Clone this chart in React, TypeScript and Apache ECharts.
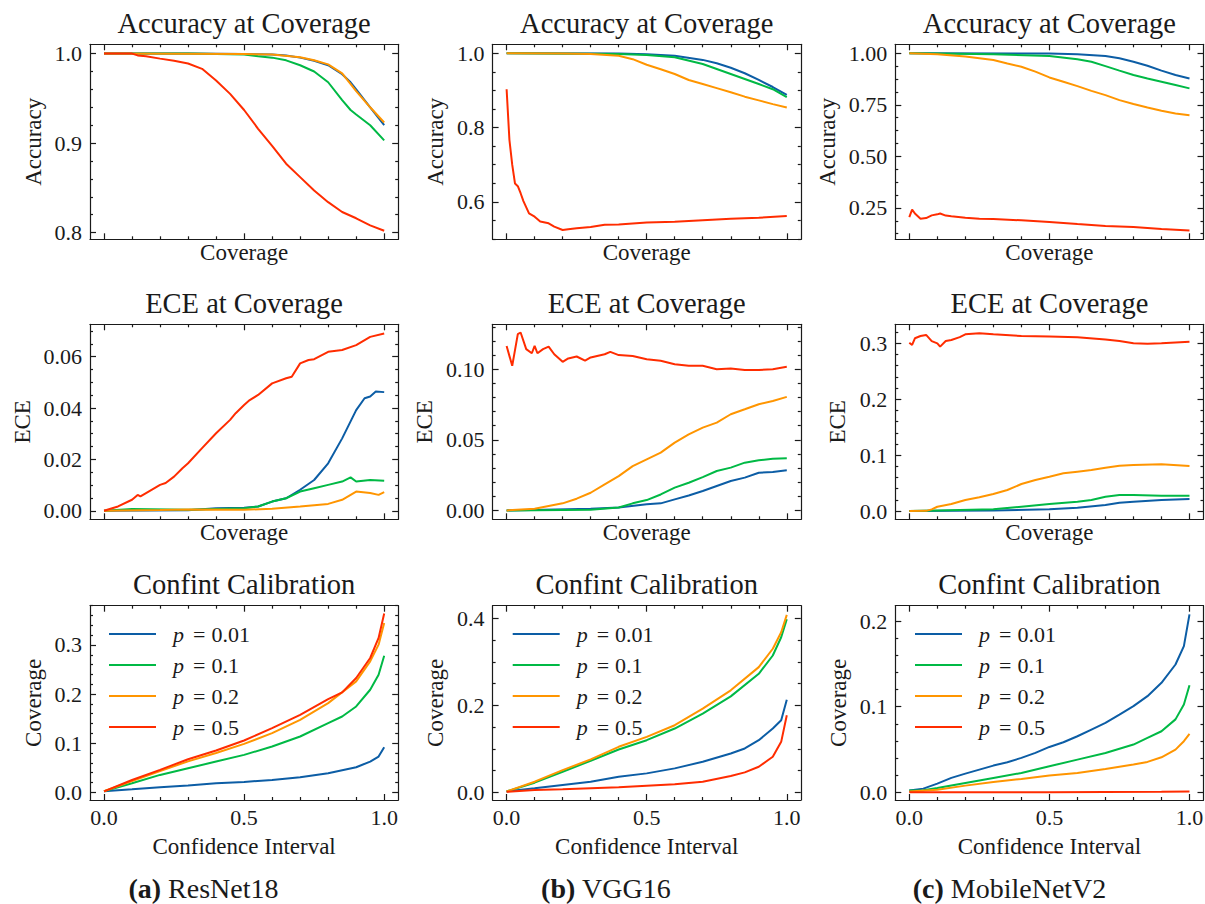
import React, { useEffect, useRef } from "react";
import * as echarts from "echarts";

type Pt = [number, number];

const FONT = "Liberation Serif";
const INK = "#1a1a1a";
const SERIES_COLORS = ["#0C5DA5", "#00B945", "#FF9500", "#FF2C00"];
const P_NAMES = ["p = 0.01", "p = 0.1", "p = 0.2", "p = 0.5"];
const P_VALUES = ["0.01", "0.1", "0.2", "0.5"];
const MODELS = ["ResNet18", "VGG16", "MobileNetV2"];
const TAGS = ["(a)", "(b)", "(c)"];
const ROW_TITLES = ["Accuracy at Coverage", "ECE at Coverage", "Confint Calibration"];
const ROW_YNAMES = ["Accuracy", "ECE", "Coverage"];
const ROW_XNAMES = ["Coverage", "Coverage", "Confidence Interval"];
const X_MAJOR = [0, 0.5, 1.0];
const X_MINOR = [0.1, 0.2, 0.3, 0.4, 0.6, 0.7, 0.8, 0.9];

// ---------- (a) ResNet18 ----------
const A_ACC_P001: Pt[] = [[0, 1], [0.3, 1.0], [0.5, 0.9995], [0.6, 0.999], [0.65, 0.998], [0.7, 0.9955], [0.75, 0.992], [0.8, 0.987], [0.85, 0.977], [0.88, 0.968], [0.9, 0.96], [0.95, 0.94], [1.0, 0.92]];
const A_ACC_P01: Pt[] = [[0, 1], [0.3, 1.0], [0.4, 0.9995], [0.5, 0.999], [0.55, 0.997], [0.6, 0.9955], [0.65, 0.9925], [0.7, 0.987], [0.75, 0.98], [0.8, 0.968], [0.85, 0.948], [0.88, 0.937], [0.9, 0.932], [0.95, 0.92], [1.0, 0.903]];
const A_ACC_P02: Pt[] = [[0, 1], [0.5, 0.9995], [0.6, 0.999], [0.7, 0.996], [0.75, 0.9925], [0.8, 0.988], [0.85, 0.978], [0.9, 0.958], [0.95, 0.94], [1.0, 0.923]];
const A_ACC_P05: Pt[] = [[0, 1], [0.1, 1.0], [0.12, 0.998], [0.15, 0.997], [0.2, 0.9944], [0.25, 0.992], [0.3, 0.989], [0.35, 0.983], [0.4, 0.97], [0.45, 0.955], [0.5, 0.937], [0.55, 0.916], [0.6, 0.897], [0.65, 0.877], [0.7, 0.862], [0.75, 0.847], [0.8, 0.834], [0.85, 0.823], [0.9, 0.816], [0.95, 0.808], [1.0, 0.802]];

const A_ECE_P001: Pt[] = [[0, 0], [0.3, 0.0002], [0.4, 0.001], [0.5, 0.0012], [0.55, 0.0017], [0.6, 0.0036], [0.65, 0.0049], [0.7, 0.0082], [0.75, 0.012], [0.8, 0.0185], [0.85, 0.0282], [0.9, 0.0392], [0.93, 0.0438], [0.95, 0.0445], [0.97, 0.0464], [1.0, 0.0462]];
const A_ECE_P01: Pt[] = [[0, 0], [0.1, 0.0007], [0.3, 0.0004], [0.5, 0.001], [0.55, 0.0017], [0.6, 0.0036], [0.65, 0.0049], [0.7, 0.0075], [0.75, 0.0088], [0.8, 0.0101], [0.85, 0.0114], [0.88, 0.013], [0.9, 0.0114], [0.95, 0.012], [1.0, 0.0117]];
const A_ECE_P02: Pt[] = [[0, 0], [0.2, 0.0003], [0.3, 0.0005], [0.5, 0.0004], [0.6, 0.0008], [0.7, 0.0017], [0.8, 0.0027], [0.85, 0.0043], [0.9, 0.0075], [0.95, 0.0069], [0.98, 0.0062], [1.0, 0.0073]];
const A_ECE_P05: Pt[] = [[0, 0], [0.05, 0.0017], [0.1, 0.0043], [0.12, 0.0062], [0.13, 0.0056], [0.15, 0.0069], [0.2, 0.0101], [0.22, 0.0108], [0.25, 0.0133], [0.28, 0.0166], [0.3, 0.0185], [0.35, 0.0244], [0.4, 0.0302], [0.45, 0.0354], [0.47, 0.038], [0.5, 0.0412], [0.52, 0.0431], [0.55, 0.0451], [0.6, 0.0496], [0.65, 0.0516], [0.67, 0.0522], [0.7, 0.0574], [0.73, 0.0587], [0.75, 0.059], [0.8, 0.0619], [0.85, 0.0626], [0.9, 0.0645], [0.95, 0.0677], [1.0, 0.069]];

const A_CAL_P001: Pt[] = [[0, 0.002], [0.1, 0.006], [0.2, 0.0102], [0.3, 0.0136], [0.4, 0.0184], [0.5, 0.0211], [0.6, 0.0252], [0.7, 0.0306], [0.8, 0.0388], [0.9, 0.051], [0.95, 0.0626], [0.98, 0.0728], [1.0, 0.0918]];
const A_CAL_P01: Pt[] = [[0, 0.002], [0.1, 0.0184], [0.2, 0.0354], [0.3, 0.049], [0.4, 0.0626], [0.5, 0.0762], [0.6, 0.0932], [0.7, 0.1136], [0.8, 0.1408], [0.85, 0.1544], [0.9, 0.1748], [0.95, 0.2088], [0.98, 0.2395], [1.0, 0.278]];
const A_CAL_P02: Pt[] = [[0, 0.002], [0.1, 0.023], [0.2, 0.043], [0.3, 0.063], [0.4, 0.08], [0.5, 0.0986], [0.6, 0.1204], [0.7, 0.1476], [0.8, 0.1816], [0.9, 0.2259], [0.95, 0.2667], [0.98, 0.3007], [1.0, 0.345]];
const A_CAL_P05: Pt[] = [[0, 0.002], [0.1, 0.025], [0.2, 0.0456], [0.3, 0.0673], [0.4, 0.085], [0.5, 0.1054], [0.6, 0.1306], [0.7, 0.1578], [0.8, 0.1898], [0.85, 0.2034], [0.9, 0.2327], [0.95, 0.2735], [0.98, 0.3143], [1.0, 0.364]];

// ---------- (b) VGG16 ----------
const B_ACC_P001: Pt[] = [[0, 1], [0.4, 0.999], [0.5, 0.997], [0.6, 0.993], [0.7, 0.982], [0.75, 0.973], [0.8, 0.961], [0.85, 0.946], [0.9, 0.928], [0.95, 0.909], [1.0, 0.888]];
const B_ACC_P01: Pt[] = [[0, 1], [0.4, 0.998], [0.5, 0.9955], [0.6, 0.989], [0.7, 0.971], [0.8, 0.944], [0.9, 0.917], [0.95, 0.903], [1.0, 0.882]];
const B_ACC_P02: Pt[] = [[0, 1], [0.2, 0.999], [0.3, 0.998], [0.4, 0.993], [0.45, 0.984], [0.5, 0.969], [0.55, 0.957], [0.6, 0.944], [0.65, 0.928], [0.7, 0.917], [0.75, 0.906], [0.8, 0.895], [0.85, 0.883], [0.9, 0.873], [0.95, 0.863], [1.0, 0.854]];
const B_ACC_P05: Pt[] = [[0, 0.903], [0.01, 0.767], [0.02, 0.7], [0.03, 0.649], [0.04, 0.642], [0.05, 0.623], [0.06, 0.602], [0.08, 0.569], [0.1, 0.56], [0.12, 0.547], [0.15, 0.542], [0.17, 0.533], [0.2, 0.524], [0.22, 0.526], [0.25, 0.529], [0.3, 0.532], [0.35, 0.538], [0.4, 0.539], [0.5, 0.544], [0.6, 0.546], [0.7, 0.55], [0.8, 0.554], [0.9, 0.557], [1.0, 0.562]];

const B_ECE_P001: Pt[] = [[0, 0], [0.3, 0.0012], [0.4, 0.002], [0.5, 0.0043], [0.55, 0.005], [0.6, 0.0078], [0.65, 0.0106], [0.7, 0.0137], [0.75, 0.0173], [0.8, 0.0208], [0.85, 0.0232], [0.9, 0.0267], [0.95, 0.0272], [1.0, 0.0284]];
const B_ECE_P01: Pt[] = [[0, 0], [0.3, 0.0005], [0.4, 0.002], [0.45, 0.005], [0.5, 0.0073], [0.55, 0.0113], [0.6, 0.0161], [0.65, 0.0196], [0.7, 0.0236], [0.75, 0.0279], [0.8, 0.0303], [0.85, 0.0338], [0.9, 0.0355], [0.95, 0.0366], [1.0, 0.0369]];
const B_ECE_P02: Pt[] = [[0, 0], [0.1, 0.0012], [0.2, 0.005], [0.25, 0.0083], [0.3, 0.0125], [0.35, 0.0184], [0.4, 0.0243], [0.45, 0.0314], [0.5, 0.0362], [0.55, 0.0409], [0.6, 0.048], [0.65, 0.0539], [0.7, 0.0586], [0.75, 0.0622], [0.8, 0.0681], [0.85, 0.0716], [0.9, 0.0752], [0.95, 0.0775], [1.0, 0.0804]];
const B_ECE_P05: Pt[] = [[0, 0.1165], [0.02, 0.1024], [0.04, 0.1248], [0.05, 0.126], [0.07, 0.1142], [0.09, 0.1113], [0.1, 0.1165], [0.11, 0.1113], [0.13, 0.1142], [0.15, 0.116], [0.17, 0.1106], [0.2, 0.1052], [0.22, 0.1076], [0.25, 0.109], [0.28, 0.106], [0.3, 0.1083], [0.35, 0.1106], [0.37, 0.1123], [0.4, 0.11], [0.45, 0.1094], [0.5, 0.1071], [0.55, 0.106], [0.6, 0.1035], [0.65, 0.1024], [0.7, 0.1024], [0.75, 0.1], [0.8, 0.1005], [0.85, 0.0995], [0.9, 0.0995], [0.95, 0.1], [1.0, 0.1017]];

const B_CAL_P001: Pt[] = [[0, 0.002], [0.1, 0.0092], [0.2, 0.0168], [0.3, 0.0244], [0.4, 0.0359], [0.5, 0.0435], [0.6, 0.055], [0.7, 0.0702], [0.8, 0.0893], [0.85, 0.1008], [0.9, 0.1198], [0.95, 0.1466], [0.98, 0.1656], [1.0, 0.213]];
const B_CAL_P01: Pt[] = [[0, 0.002], [0.1, 0.0221], [0.2, 0.0473], [0.3, 0.0725], [0.4, 0.0985], [0.5, 0.1198], [0.6, 0.1466], [0.7, 0.1809], [0.8, 0.2206], [0.9, 0.2725], [0.95, 0.3145], [0.98, 0.3565], [1.0, 0.398]];
const B_CAL_P02: Pt[] = [[0, 0.002], [0.1, 0.0244], [0.2, 0.0511], [0.3, 0.0756], [0.4, 0.1046], [0.5, 0.1275], [0.6, 0.1542], [0.7, 0.1924], [0.8, 0.2344], [0.9, 0.2878], [0.95, 0.33], [0.98, 0.368], [1.0, 0.408]];
const B_CAL_P05: Pt[] = [[0, 0.001], [0.1, 0.0053], [0.2, 0.0069], [0.3, 0.0092], [0.4, 0.0115], [0.5, 0.0153], [0.6, 0.0183], [0.7, 0.0244], [0.8, 0.0374], [0.85, 0.0458], [0.9, 0.0588], [0.95, 0.0817], [0.98, 0.116], [1.0, 0.177]];

// ---------- (c) MobileNetV2 ----------
const C_ACC_P001: Pt[] = [[0, 1], [0.5, 0.999], [0.6, 0.996], [0.7, 0.987], [0.75, 0.976], [0.8, 0.959], [0.85, 0.94], [0.9, 0.916], [0.95, 0.895], [1.0, 0.878]];
const C_ACC_P01: Pt[] = [[0, 1], [0.1, 0.999], [0.3, 0.995], [0.5, 0.987], [0.6, 0.971], [0.65, 0.959], [0.7, 0.938], [0.75, 0.916], [0.8, 0.895], [0.85, 0.878], [0.9, 0.862], [0.95, 0.846], [1.0, 0.83]];
const C_ACC_P02: Pt[] = [[0, 1], [0.1, 0.995], [0.2, 0.984], [0.3, 0.968], [0.35, 0.951], [0.4, 0.935], [0.45, 0.911], [0.5, 0.883], [0.55, 0.862], [0.6, 0.841], [0.65, 0.818], [0.7, 0.797], [0.75, 0.773], [0.8, 0.754], [0.85, 0.737], [0.9, 0.721], [0.95, 0.708], [1.0, 0.7]];
const C_ACC_P05: Pt[] = [[0, 0.206], [0.01, 0.242], [0.02, 0.223], [0.04, 0.198], [0.06, 0.201], [0.08, 0.214], [0.1, 0.219], [0.11, 0.223], [0.13, 0.213], [0.15, 0.21], [0.2, 0.203], [0.25, 0.198], [0.3, 0.196], [0.4, 0.19], [0.5, 0.182], [0.6, 0.172], [0.7, 0.163], [0.8, 0.158], [0.9, 0.148], [1.0, 0.141]];

const C_ECE_P001: Pt[] = [[0, 0], [0.3, 0.001], [0.5, 0.003], [0.6, 0.006], [0.7, 0.0107], [0.75, 0.0149], [0.8, 0.0167], [0.9, 0.0197], [1.0, 0.0215]];
const C_ECE_P01: Pt[] = [[0, 0], [0.1, 0.001], [0.3, 0.003], [0.4, 0.0077], [0.5, 0.0125], [0.6, 0.0167], [0.65, 0.0197], [0.7, 0.0256], [0.75, 0.0286], [0.8, 0.0286], [0.9, 0.0274], [1.0, 0.0274]];
const C_ECE_P02: Pt[] = [[0, 0], [0.06, 0.0003], [0.08, 0.003], [0.1, 0.0077], [0.15, 0.0125], [0.2, 0.0197], [0.25, 0.0245], [0.3, 0.0304], [0.35, 0.0376], [0.4, 0.0483], [0.45, 0.0555], [0.5, 0.0614], [0.55, 0.0674], [0.6, 0.0704], [0.65, 0.0733], [0.7, 0.0775], [0.75, 0.0811], [0.8, 0.0823], [0.9, 0.0835], [1.0, 0.0805]];
const C_ECE_P05: Pt[] = [[0, 0.3011], [0.01, 0.297], [0.02, 0.309], [0.04, 0.313], [0.06, 0.315], [0.08, 0.304], [0.1, 0.3], [0.11, 0.294], [0.13, 0.304], [0.15, 0.306], [0.18, 0.311], [0.2, 0.316], [0.25, 0.318], [0.3, 0.316], [0.4, 0.313], [0.5, 0.312], [0.6, 0.311], [0.7, 0.307], [0.75, 0.304], [0.8, 0.3], [0.85, 0.299], [0.9, 0.3], [1.0, 0.303]];

const C_CAL_P001: Pt[] = [[0, 0.002], [0.05, 0.0043], [0.1, 0.0101], [0.15, 0.0168], [0.2, 0.0218], [0.25, 0.0265], [0.3, 0.0312], [0.35, 0.0351], [0.4, 0.0402], [0.45, 0.046], [0.5, 0.053], [0.55, 0.0585], [0.6, 0.0655], [0.65, 0.0733], [0.7, 0.0811], [0.75, 0.0908], [0.8, 0.1006], [0.85, 0.1123], [0.9, 0.1279], [0.95, 0.1493], [0.98, 0.1708], [1.0, 0.2078]];
const C_CAL_P01: Pt[] = [[0, 0.002], [0.05, 0.0023], [0.1, 0.0051], [0.2, 0.0109], [0.3, 0.0168], [0.4, 0.0226], [0.5, 0.0304], [0.6, 0.0382], [0.7, 0.046], [0.8, 0.0558], [0.85, 0.0636], [0.9, 0.0713], [0.95, 0.0852], [0.98, 0.1025], [1.0, 0.1251]];
const C_CAL_P02: Pt[] = [[0, 0.001], [0.1, 0.0031], [0.2, 0.0078], [0.3, 0.0121], [0.4, 0.0156], [0.5, 0.0195], [0.6, 0.0226], [0.7, 0.0273], [0.8, 0.0324], [0.85, 0.0355], [0.9, 0.0409], [0.95, 0.0499], [0.98, 0.0597], [1.0, 0.0682]];
const C_CAL_P05: Pt[] = [[0, 0.0], [0.5, 0.0002], [0.9, 0.0005], [1.0, 0.0008]];

// ---------- axis ranges & ticks per panel ----------
const PANELS = [
  { row: 0, col: 0, lines: [A_ACC_P001, A_ACC_P01, A_ACC_P02, A_ACC_P05], yMin: 0.7925, yMax: 1.0104, yMajor: [0.8, 0.9, 1.0], yMinorStep: 0.02, dec: 1 },
  { row: 0, col: 1, lines: [B_ACC_P001, B_ACC_P01, B_ACC_P02, B_ACC_P05], yMin: 0.499, yMax: 1.024, yMajor: [0.6, 0.8, 1.0], yMinorStep: 0.05, dec: 1 },
  { row: 0, col: 2, lines: [C_ACC_P001, C_ACC_P01, C_ACC_P02, C_ACC_P05], yMin: 0.098, yMax: 1.0437, yMajor: [0.25, 0.5, 0.75, 1.0], yMinorStep: 0.0625, dec: 2 },
  { row: 1, col: 0, lines: [A_ECE_P001, A_ECE_P01, A_ECE_P02, A_ECE_P05], yMin: -0.0033, yMax: 0.0726, yMajor: [0, 0.02, 0.04, 0.06], yMinorStep: 0.005, dec: 2 },
  { row: 1, col: 1, lines: [B_ECE_P001, B_ECE_P01, B_ECE_P02, B_ECE_P05], yMin: -0.0063, yMax: 0.1318, yMajor: [0, 0.05, 0.1], yMinorStep: 0.01, dec: 2 },
  { row: 1, col: 2, lines: [C_ECE_P001, C_ECE_P01, C_ECE_P02, C_ECE_P05], yMin: -0.0148, yMax: 0.334, yMajor: [0, 0.1, 0.2, 0.3], yMinorStep: 0.02, dec: 1 },
  { row: 2, col: 0, lines: [A_CAL_P001, A_CAL_P01, A_CAL_P02, A_CAL_P05], yMin: -0.0157, yMax: 0.38, yMajor: [0, 0.1, 0.2, 0.3], yMinorStep: 0.02, dec: 1 },
  { row: 2, col: 1, lines: [B_CAL_P001, B_CAL_P01, B_CAL_P02, B_CAL_P05], yMin: -0.0177, yMax: 0.429, yMajor: [0, 0.2, 0.4], yMinorStep: 0.05, dec: 1 },
  { row: 2, col: 2, lines: [C_CAL_P001, C_CAL_P01, C_CAL_P02, C_CAL_P05], yMin: -0.009, yMax: 0.218, yMajor: [0, 0.1, 0.2], yMinorStep: 0.02, dec: 1 },
];

// ---------- layout (pixels) ----------
const COL_LEFT = [90, 492.6, 895.3];
const GRID_W = 308.2;
const ROW_TOP = [44.3, 324.3, 605.7];
const GRID_H = [195, 195, 194.3];
const YNAME_X = [[33, 435, 827], [22, 424, 837], [33, 435, 838]];
const TITLE_Y = [23, 303, 584];
const XNAME_Y = [252, 532, 846];
const CAPTION_X = [203.5, 606, 1009.5];
const CAPTION_Y = 888;
const LEGEND_LEFT = [109, 512.7, 915];
const LEGEND_TOP = 623;

function minorTicks(min: number, max: number, step: number, majors: number[]): number[] {
  const out: number[] = [];
  const i0 = Math.ceil(min / step - 1e-9);
  const i1 = Math.floor(max / step + 1e-9);
  for (let i = i0; i <= i1; i++) {
    const v = +(i * step).toFixed(6);
    if (!majors.some((m) => Math.abs(m - v) < 1e-7)) out.push(v);
  }
  return out;
}

function buildOption() {
  const grids: any[] = [];
  const xAxes: any[] = [];
  const yAxes: any[] = [];
  const series: any[] = [];
  const graphics: any[] = [];
  const legends: any[] = [];

  const lineStyle = { color: INK, width: 1.2 };
  const labelStyle = { color: INK, fontFamily: FONT, fontSize: 22 };

  PANELS.forEach((p, k) => {
    const left = COL_LEFT[p.col];
    const top = ROW_TOP[p.row];
    const h = GRID_H[p.row];
    grids.push({ left, top, width: GRID_W, height: h, containLabel: false, outerBoundsMode: "none", show: false });

    const xBase = { type: "value", gridIndex: k, min: -0.05, max: 1.05, splitLine: { show: false } };
    const showX = p.row === 2;
    xAxes.push({
      ...xBase, position: "bottom",
      axisLine: { show: true, onZero: false, lineStyle },
      axisTick: { show: true, inside: true, length: 6, customValues: X_MAJOR, lineStyle },
      axisLabel: { show: showX, customValues: X_MAJOR, margin: 6, formatter: (v: number) => v.toFixed(1), ...labelStyle },
    });
    xAxes.push({
      ...xBase, position: "bottom",
      axisLine: { show: false, onZero: false },
      axisTick: { show: true, inside: true, length: 3, customValues: X_MINOR, lineStyle },
      axisLabel: { show: false },
    });
    xAxes.push({
      ...xBase, position: "top",
      axisLine: { show: true, onZero: false, lineStyle },
      axisTick: { show: true, inside: true, length: 6, customValues: X_MAJOR, lineStyle },
      axisLabel: { show: false },
    });
    xAxes.push({
      ...xBase, position: "top",
      axisLine: { show: false, onZero: false },
      axisTick: { show: true, inside: true, length: 3, customValues: X_MINOR, lineStyle },
      axisLabel: { show: false },
    });

    const yMinor = minorTicks(p.yMin, p.yMax, p.yMinorStep, p.yMajor);
    const yBase = { type: "value", gridIndex: k, min: p.yMin, max: p.yMax, splitLine: { show: false } };
    yAxes.push({
      ...yBase, position: "left",
      axisLine: { show: true, onZero: false, lineStyle },
      axisTick: { show: true, inside: true, length: 6, customValues: p.yMajor, lineStyle },
      axisLabel: { show: true, customValues: p.yMajor, margin: 8, formatter: (v: number) => v.toFixed(p.dec), ...labelStyle },
    });
    yAxes.push({
      ...yBase, position: "left",
      axisLine: { show: false, onZero: false },
      axisTick: { show: true, inside: true, length: 3, customValues: yMinor, lineStyle },
      axisLabel: { show: false },
    });
    yAxes.push({
      ...yBase, position: "right",
      axisLine: { show: true, onZero: false, lineStyle },
      axisTick: { show: true, inside: true, length: 6, customValues: p.yMajor, lineStyle },
      axisLabel: { show: false },
    });
    yAxes.push({
      ...yBase, position: "right",
      axisLine: { show: false, onZero: false },
      axisTick: { show: true, inside: true, length: 3, customValues: yMinor, lineStyle },
      axisLabel: { show: false },
    });

    p.lines.forEach((data, j) => {
      series.push({
        type: "line",
        name: P_NAMES[j],
        xAxisIndex: 4 * k,
        yAxisIndex: 4 * k,
        data,
        symbol: "none",
        showSymbol: false,
        smooth: false,
        clip: true,
        silent: true,
        z: 2 + j,
        lineStyle: { width: 2, color: SERIES_COLORS[j] },
        itemStyle: { color: SERIES_COLORS[j] },
        emphasis: { disabled: true },
      });
    });

    const cx = left + GRID_W / 2;
    graphics.push({
      type: "text", x: cx, y: TITLE_Y[p.row], silent: true,
      style: { text: ROW_TITLES[p.row], fontFamily: FONT, fontSize: 28.5, fill: INK, align: "center", verticalAlign: "middle" },
    });
    graphics.push({
      type: "text", x: cx, y: XNAME_Y[p.row], silent: true,
      style: { text: ROW_XNAMES[p.row], fontFamily: FONT, fontSize: 23, fill: INK, align: "center", verticalAlign: "middle" },
    });
    graphics.push({
      type: "text", x: YNAME_X[p.row][p.col], y: top + h / 2, rotation: Math.PI / 2, silent: true,
      style: { text: ROW_YNAMES[p.row], fontFamily: FONT, fontSize: 23, fill: INK, align: "center", verticalAlign: "middle" },
    });
  });

  for (let c = 0; c < 3; c++) {
    legends.push({
      data: P_NAMES,
      orient: "vertical",
      left: LEGEND_LEFT[c],
      top: LEGEND_TOP,
      padding: 0,
      icon: "rect",
      itemWidth: 47,
      itemHeight: 2.2,
      itemGap: 9,
      selectedMode: false,
      formatter: (name: string) => `{i|p}{e|=}{n|${P_VALUES[P_NAMES.indexOf(name)]}}`,
      textStyle: {
        color: INK,
        fontFamily: FONT,
        fontSize: 22,
        lineHeight: 22,
        rich: {
          i: { fontStyle: "italic", fontFamily: FONT, fontSize: 22, lineHeight: 22, color: INK, padding: [0, 0, 0, 12] },
          e: { fontFamily: FONT, fontSize: 22, lineHeight: 22, color: INK, padding: [0, 6, 0, 9] },
          n: { fontFamily: FONT, fontSize: 22, lineHeight: 22, color: INK },
        },
      },
    });
    graphics.push({
      type: "text", x: CAPTION_X[c], y: CAPTION_Y, silent: true,
      style: {
        text: `{b|${TAGS[c]}} ${MODELS[c]}`,
        fontFamily: FONT, fontSize: 28, fill: INK, align: "center", verticalAlign: "middle",
        rich: { b: { fontFamily: FONT, fontSize: 28, fontWeight: "bold", fill: INK } },
      },
    });
  }

  return {
    animation: false,
    backgroundColor: "#ffffff",
    textStyle: { fontFamily: FONT },
    grid: grids,
    xAxis: xAxes,
    yAxis: yAxes,
    legend: legends,
    series,
    graphic: graphics,
  };
}

export default function App() {
  const ref = useRef<HTMLDivElement>(null);
  useEffect(() => {
    if (!ref.current) return;
    const chart = echarts.init(ref.current, undefined, { renderer: "svg" });
    chart.setOption(buildOption() as any);
    return () => chart.dispose();
  }, []);
  return (
    <div
      ref={ref}
      style={{ position: "fixed", left: 0, top: 0, width: 1205, height: 904, background: "#fff" }}
    />
  );
}
